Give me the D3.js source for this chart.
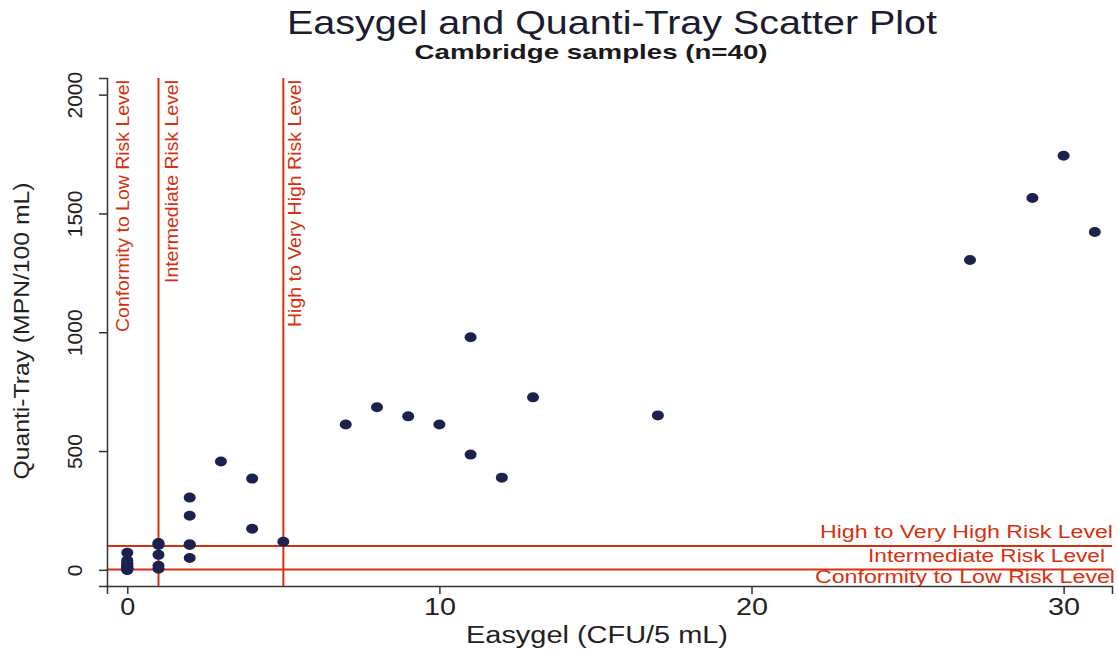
<!DOCTYPE html>
<html>
<head>
<meta charset="utf-8">
<script src="https://cdn.jsdelivr.net/npm/d3@7"></script>
<style>
  body { margin: 0; background: #fff; }
  text { font-family: "Liberation Sans", Arial, sans-serif; }
</style>
</head>
<body>
<script>
// Easygel (CFU/5 mL) vs Quanti-Tray (MPN/100 mL), Cambridge samples
const easygel = [0, 0, 0, 0, 0, 0, 0, 0, 0, 0, 0, 1, 1, 1, 1, 1, 2, 2, 2, 2, 3, 4, 4, 5,
                 7, 8, 9, 10, 11, 11, 12, 13, 17, 27, 29, 30, 31, 0, 1, 2];
const quantiTray = [72, 40, 30, 20, 12, 5, 0, 0, 2, 8, 15, 113, 105, 63, 17, 5, 304, 228, 105, 50, 456, 384, 173, 118,
                    612, 684, 646, 612, 979, 485, 388, 726, 650, 1304, 1565, 1743, 1422, 25, 110, 108];
const xTicks = [0, 10, 20, 30];
const yTicks = [0, 500, 1000, 1500, 2000];
const xLimits = [-0.65, 31.55];
const yLimits = [-68, 2070];

// risk thresholds
const xThresholds = [1, 5];
const yThresholds = [1, 100];
const vLabels = [
  {x: -0.15, text: "Conformity to Low Risk Level", len: 252},
  {x: 1.4, text: "Intermediate Risk Level", len: 203},
  {x: 5.35, text: "High to Very High Risk Level", len: 247}
];
const hLabels = [
  {y: 100, text: "High to Very High Risk Level", len: 293, end: 1113},
  {y: 1, text: "Intermediate Risk Level", len: 237, end: 1105},
  {y: -90, text: "Conformity to Low Risk Level", len: 300, end: 1115}
];

const w = 1118, h = 651;
const red = "#d8300f";

const svg = d3.select("body").append("svg")
  .attr("width", w)
  .attr("height", h);

const x = d3.scaleLinear().domain(xLimits).range([107, 1112]);
const y = d3.scaleLinear().domain(yLimits).range([586, 78]);

// titles
svg.append("text")
  .attr("x", 612).attr("y", 34)
  .attr("text-anchor", "middle")
  .attr("font-size", 33)
  .attr("fill", "#1c1c30")
  .attr("textLength", 650)
  .attr("lengthAdjust", "spacingAndGlyphs")
  .text("Easygel and Quanti-Tray Scatter Plot");

svg.append("text")
  .attr("x", 591).attr("y", 59)
  .attr("text-anchor", "middle")
  .attr("font-size", 21)
  .attr("font-weight", "bold")
  .attr("fill", "#1a1a1a")
  .attr("textLength", 353)
  .attr("lengthAdjust", "spacingAndGlyphs")
  .text("Cambridge samples (n=40)");

// threshold lines
svg.selectAll(".vline")
  .data(xThresholds)
  .enter().append("line")
  .attr("class", "vline")
  .attr("x1", d => x(d)).attr("x2", d => x(d))
  .attr("y1", y.range()[0]).attr("y2", y.range()[1])
  .attr("stroke", red)
  .attr("stroke-width", 2);

svg.selectAll(".hline")
  .data(yThresholds)
  .enter().append("line")
  .attr("class", "hline")
  .attr("x1", x.range()[0]).attr("x2", x.range()[1])
  .attr("y1", d => y(d)).attr("y2", d => y(d))
  .attr("stroke", red)
  .attr("stroke-width", 2);

// vertical labels
svg.selectAll(".vlabel")
  .data(vLabels)
  .enter().append("text")
  .attr("class", "vlabel")
  .attr("transform", d => "translate(" + x(d.x) + "," + 80 + ") rotate(-90)")
  .attr("text-anchor", "end")
  .attr("dy", "0.35em")
  .attr("font-size", 19)
  .attr("fill", red)
  .attr("textLength", d => d.len)
  .attr("lengthAdjust", "spacingAndGlyphs")
  .style("font-family", "'Liberation Sans Narrow', 'Liberation Sans', sans-serif")
  .text(d => d.text);

// horizontal labels
svg.selectAll(".hlabel")
  .data(hLabels)
  .enter().append("text")
  .attr("class", "hlabel")
  .attr("x", d => d.end - d.len)
  .attr("y", d => y(d.y) - 8)
  .attr("font-size", 18)
  .attr("fill", red)
  .attr("textLength", d => d.len)
  .attr("lengthAdjust", "spacingAndGlyphs")
  .text(d => d.text);

// points
const pts = easygel.map((d, i) => ({e: d, q: quantiTray[i]}));
svg.selectAll(".dot")
  .data(pts)
  .enter().append("ellipse")
  .attr("class", "dot")
  .attr("cx", d => x(d.e))
  .attr("cy", d => y(d.q))
  .attr("rx", 6)
  .attr("ry", 5)
  .attr("fill", "#1b2250");

// axes
const xAxis = d3.axisBottom(x).tickValues(xTicks).tickSizeOuter(0).tickSize(8).tickPadding(4);
const yAxis = d3.axisLeft(y).tickValues(yTicks).tickFormat(d3.format("d")).tickSizeOuter(0).tickSize(8);

const gx = svg.append("g")
  .attr("transform", "translate(0," + y.range()[0] + ")")
  .call(xAxis);
gx.selectAll("text")
  .attr("font-size", 24).attr("fill", "#222")
  .attr("textLength", d => d === 0 ? 15 : 32)
  .attr("lengthAdjust", "spacingAndGlyphs");

const gy = svg.append("g")
  .attr("transform", "translate(" + x.range()[0] + ",0)")
  .call(yAxis);
gy.selectAll("text")
  .attr("font-size", 21).attr("fill", "#222")
  .attr("x", null).attr("dy", null)
  .attr("text-anchor", "middle")
  .attr("transform", "translate(-25,0) rotate(-90)");

svg.selectAll(".domain, .tick line").attr("stroke", "#333").attr("stroke-width", 1.5);

// axis titles
svg.append("text")
  .attr("x", 597).attr("y", 643)
  .attr("text-anchor", "middle")
  .attr("font-size", 23)
  .attr("fill", "#222")
  .attr("textLength", 262)
  .attr("lengthAdjust", "spacingAndGlyphs")
  .text("Easygel (CFU/5 mL)");

svg.append("text")
  .attr("transform", "translate(29," + 331 + ") rotate(-90)")
  .attr("text-anchor", "middle")
  .attr("font-size", 22)
  .attr("fill", "#222")
  .attr("textLength", 297)
  .attr("lengthAdjust", "spacingAndGlyphs")
  .text("Quanti-Tray (MPN/100 mL)");
</script>
</body>
</html>
